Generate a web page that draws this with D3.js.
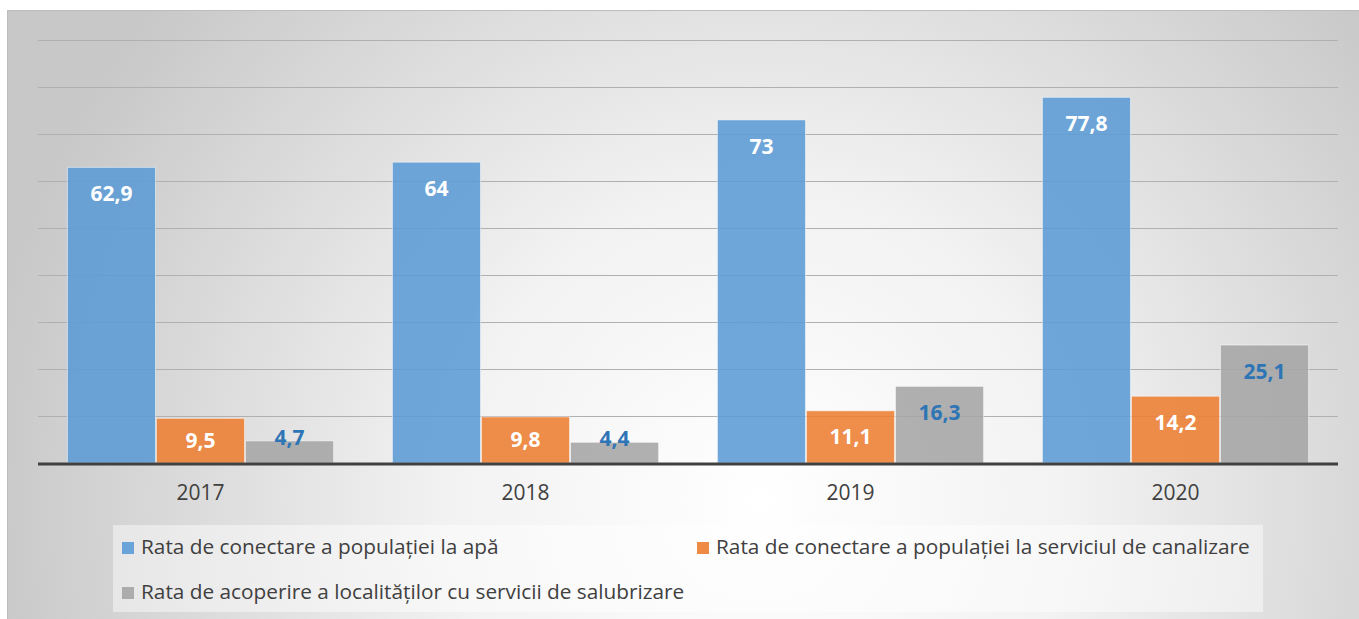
<!DOCTYPE html>
<html>
<head>
<meta charset="utf-8">
<script src="https://cdn.jsdelivr.net/npm/d3@7"></script>
<style>
  html, body { margin: 0; padding: 0; background: #fff; }
  svg { display: block; font-family: "Open Sans", sans-serif; }
</style>
</head>
<body>
<div id="chart"></div>
<script>
// Data
const years = ["2017", "2018", "2019", "2020"];
const seriesNames = [
    "Rata de conectare a populației la apă",
    "Rata de conectare a populației la serviciul de canalizare",
    "Rata de acoperire a localităților cu servicii de salubrizare"
];
const apa = [62.9, 64, 73, 77.8];
const canalizare = [9.5, 9.8, 11.1, 14.2];
const salubrizare = [4.7, 4.4, 16.3, 25.1];
const yTicks = [0, 10, 20, 30, 40, 50, 60, 70, 80, 90];

const colors = ["#5b9bd5", "#ed7d31", "#a5a5a5"];
const labelColors = ["#ffffff", "#ffffff", "#2e75b6"];

const series = [apa, canalizare, salubrizare];
const fmt = v => String(v).replace(".", ",");

const W = 1359, H = 619;
const margin = { top: 40, right: 21, bottom: 156, left: 38 };
const width = W - margin.left - margin.right;
const height = H - margin.top - margin.bottom;

const svg = d3.select("#chart").append("svg")
    .attr("width", W)
    .attr("height", H);

// Background panel with radial shading
const defs = svg.append("defs");
const grad = defs.append("radialGradient")
    .attr("id", "bg")
    .attr("gradientUnits", "userSpaceOnUse")
    .attr("cx", 760).attr("cy", 500).attr("r", 780);
grad.append("stop").attr("offset", "0").attr("stop-color", "#ffffff");
grad.append("stop").attr("offset", "0.4").attr("stop-color", "#f2f2f2");
grad.append("stop").attr("offset", "1").attr("stop-color", "#c8c8c8");

svg.append("rect")
    .attr("x", 7.5).attr("y", 10.5)
    .attr("width", W).attr("height", H)
    .attr("fill", "url(#bg)")
    .attr("stroke", "#bdbdbd");

const g = svg.append("g")
    .attr("transform", `translate(${margin.left},${margin.top})`);

const y = d3.scaleLinear().domain([0, 90]).range([height, 0]);

const x0 = d3.scaleBand()
    .domain(years)
    .range([0, width])
    .paddingInner(0.178)
    .paddingOuter(0.089);

const x1 = d3.scaleBand()
    .domain(d3.range(series.length))
    .range([0, x0.bandwidth()]);

// Gridlines
g.append("g")
    .attr("class", "grid")
    .call(d3.axisLeft(y).tickValues(yTicks.slice(1)).tickSize(-width).tickFormat(""))
    .call(s => s.select(".domain").remove())
    .call(s => s.selectAll("line").attr("stroke", "#b0b0b0").attr("stroke-width", 1));

// Bars
const groups = g.selectAll(".year")
    .data(years)
    .join("g")
    .attr("transform", d => `translate(${x0(d)},0)`);

groups.selectAll("rect")
    .data((d, i) => series.map((s, k) => ({ k, v: s[i] })))
    .join("rect")
    .attr("x", d => x1(d.k) + 0.5)
    .attr("y", d => y(d.v))
    .attr("width", x1.bandwidth() - 1)
    .attr("height", d => height - y(d.v))
    .attr("fill", d => colors[d.k])
    .attr("fill-opacity", 0.88)
    .attr("stroke", "#ffffff")
    .attr("stroke-opacity", 0.5)
    .attr("stroke-width", 1);

// Value labels
groups.selectAll("text")
    .data((d, i) => series.map((s, k) => ({ k, v: s[i] })))
    .join("text")
    .attr("x", d => x1(d.k) + x1.bandwidth() / 2)
    .attr("y", d => {
        const top = y(d.v);
        const h = height - top;
        if (h < 30) return top + 4;
        return Math.min(top + 34, top + h / 2 + 7);
    })
    .attr("text-anchor", "middle")
    .attr("font-size", 21)
    .attr("font-weight", "bold")
    .attr("fill", d => labelColors[d.k])
    .text(d => fmt(d.v));

// Baseline and category axis
g.append("line")
    .attr("x1", 0).attr("x2", width)
    .attr("y1", height + 1).attr("y2", height + 1)
    .attr("stroke", "#404040")
    .attr("stroke-width", 3);

g.append("g")
    .attr("transform", `translate(0,${height})`)
    .call(d3.axisBottom(x0).tickSize(0).tickPadding(22))
    .call(s => s.select(".domain").remove())
    .call(s => s.selectAll("text")
        .attr("font-size", 21)
        .attr("font-family", "Open Sans, sans-serif")
        .attr("fill", "#404040"));

// Legend
const legend = svg.append("g");
legend.append("rect")
    .attr("x", 113).attr("y", 525)
    .attr("width", 1150).attr("height", 87)
    .attr("fill", "#ffffff")
    .attr("fill-opacity", 0.45);

const legendPos = [[122, 542], [697, 542], [122, 587]];
const items = legend.selectAll(".item")
    .data(seriesNames)
    .join("g")
    .attr("transform", (d, i) => `translate(${legendPos[i][0]},${legendPos[i][1]})`);

items.append("rect")
    .attr("width", 12).attr("height", 12)
    .attr("fill", (d, i) => colors[i])
    .attr("fill-opacity", 0.9);

items.append("text")
    .attr("x", 19)
    .attr("y", 12)
    .attr("font-size", 20.8)
    .attr("fill", "#404040")
    .text(d => d);
</script>
</body>
</html>
